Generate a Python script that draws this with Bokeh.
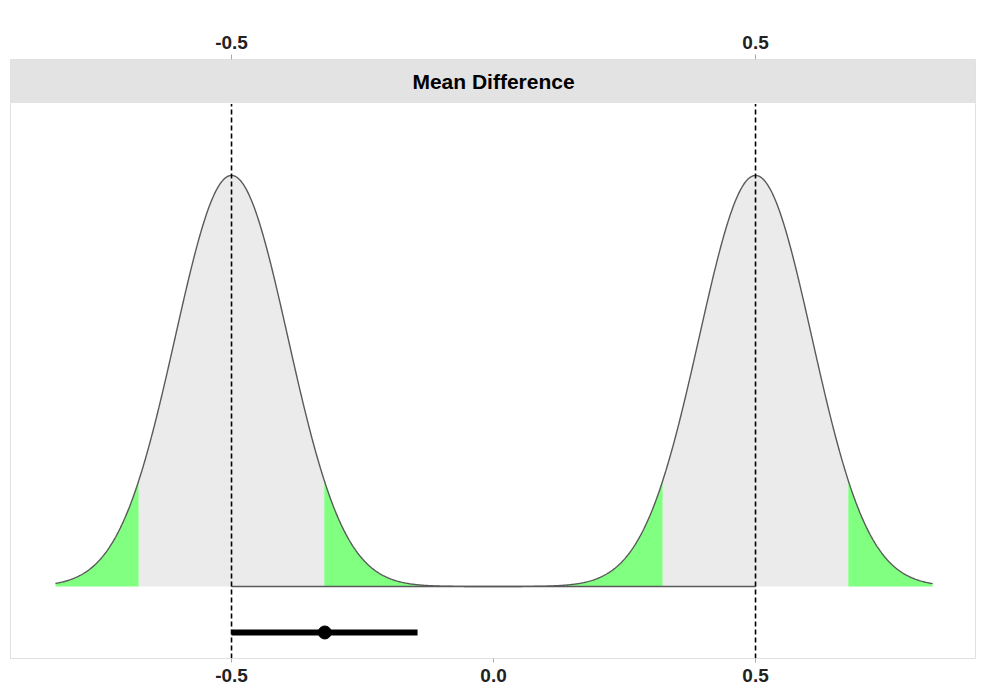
import numpy as np
from bokeh.plotting import figure
from bokeh.models import LinearAxis, FixedTicker, Range1d
from bokeh.core.properties import value
from bokeh.embed import file_html
from bokeh.resources import INLINE

# ---- data ----
dist_means = [-0.5, 0.5]          # centres of the two null distributions (equivalence bounds)
dist_sd = 0.1075                  # standard error of the distributions
dist_lo = [-0.836, -0.5]          # drawn x-span of each curve
dist_hi = [0.5, 0.838]
ci_lo = [-0.677, 0.323]           # 90% region (grey) of each curve
ci_hi = [-0.323, 0.677]
bounds = [-0.5, 0.5]              # equivalence bounds (dashed lines)
est = -0.322                      # observed mean difference
est_lo = -0.5                     # 90% CI of the estimate
est_hi = -0.145
top_ticks = [-0.5, 0.5]
top_labels = ["-0.5", "0.5"]
bottom_ticks = [-0.5, 0.0, 0.5]
bottom_labels = ["-0.5", "0.0", "0.5"]
strip_label = "Mean Difference"

FONT = "Liberation Sans"

def pdf(x, m, s):
    return np.exp(-0.5 * ((x - m) / s) ** 2) / (s * np.sqrt(2 * np.pi))

y_bot, y_top = -0.650, 4.758
strip_bottom = 4.361
x_min, x_max = -0.9218, 0.9198

p = figure(width=984, height=689, output_backend="svg", toolbar_location=None,
           x_range=Range1d(x_min, x_max), y_range=Range1d(y_bot, y_top),
           x_axis_location=None, y_axis_location=None,
           min_border_left=10, min_border_right=9, min_border_top=59, min_border_bottom=31)
p.grid.visible = False
p.outline_line_color = "#E0E0E0"
p.outline_line_width = 1
p.background_fill_color = "white"
p.border_fill_color = "white"

# strip
p.quad(left=x_min, right=x_max, bottom=strip_bottom, top=y_top,
       fill_color="#E3E3E3", line_color=None)
p.text(x=[0.0], y=[(strip_bottom + y_top) / 2], text=[strip_label],
       text_font=value(FONT), text_font_style="bold", text_font_size="21px",
       text_color="black", text_align="center", text_baseline="middle")

# distributions
for m, lo, hi, cl, ch in zip(dist_means, dist_lo, dist_hi, ci_lo, ci_hi):
    xl = np.linspace(lo, cl, 200)
    p.varea(x=xl, y1=np.zeros_like(xl), y2=pdf(xl, m, dist_sd), fill_color="#80FF80")
    xm = np.linspace(cl, ch, 300)
    p.varea(x=xm, y1=np.zeros_like(xm), y2=pdf(xm, m, dist_sd), fill_color="#EBEBEB")
    xr = np.linspace(ch, hi, 300)
    p.varea(x=xr, y1=np.zeros_like(xr), y2=pdf(xr, m, dist_sd), fill_color="#80FF80")

for m, lo, hi in zip(dist_means, dist_lo, dist_hi):
    xa = np.linspace(lo, hi, 800)
    p.line(xa, pdf(xa, m, dist_sd), line_color="#5A5A5A", line_width=1.4)

# equivalence bounds
p.segment(x0=bounds, x1=bounds, y0=[y_bot] * 2, y1=[strip_bottom] * 2,
          line_color="black", line_width=1.6, line_dash="5 3")

# estimate with CI
y_est = -0.415
p.segment(x0=[est_lo], x1=[est_hi], y0=[y_est], y1=[y_est], line_color="black", line_width=6)
p.scatter(x=[est], y=[y_est], size=13, fill_color="black", line_color="black")

# strip / panel separator
p.segment(x0=[x_min], x1=[x_max], y0=[strip_bottom], y1=[strip_bottom],
          line_color="white", line_width=1)

def style_axis(ax, ticks, labels, line_color, standoff):
    ax.axis_line_color = line_color
    ax.major_tick_out = 5
    ax.major_tick_in = 0
    ax.major_tick_line_color = "#AAAAAA"
    ax.minor_tick_line_color = None
    ax.major_label_overrides = {t: l for t, l in zip(ticks, labels)}
    ax.major_label_text_font = FONT
    ax.major_label_text_font_style = "bold"
    ax.major_label_text_font_size = "19px"
    ax.major_label_text_color = "#222222"
    ax.major_label_standoff = standoff

top = LinearAxis(ticker=FixedTicker(ticks=top_ticks))
style_axis(top, top_ticks, top_labels, None, 6)
p.add_layout(top, "above")

bot = LinearAxis(ticker=FixedTicker(ticks=bottom_ticks))
style_axis(bot, bottom_ticks, bottom_labels, "#E0E0E0", 6)
bot.major_tick_out = 4
p.add_layout(bot, "below")

open("out.html", "w").write(file_html(p, INLINE))
